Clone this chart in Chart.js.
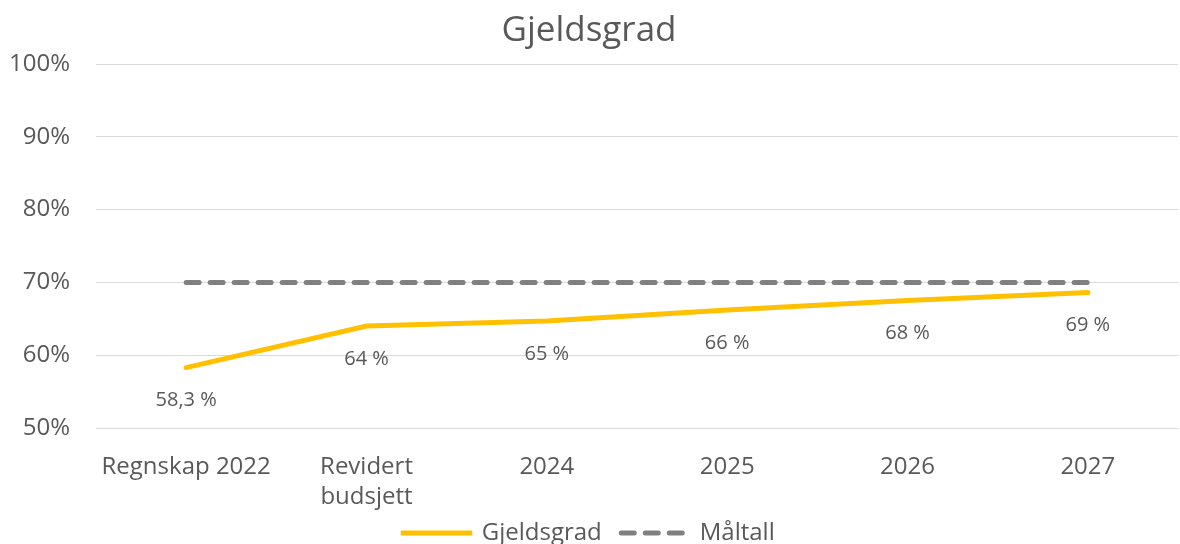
<!DOCTYPE html>
<html>
<head>
<meta charset="utf-8">
<script src="https://cdn.jsdelivr.net/npm/chart.js@4/dist/chart.umd.min.js"></script>
<style>
  html, body { margin: 0; padding: 0; background: #fff; overflow: hidden; }
  #wrap { width: 1180px; height: 555px; position: relative; }
</style>
</head>
<body>
<div id="wrap"><canvas id="canvas"></canvas></div>
<script>
var categories = [ "Regnskap 2022", [ "Revidert", "budsjett" ], "2024", "2025", "2026", "2027" ];
var gjeldsgrad = [ 58.3, 64.0, 64.7, 66.2, 67.5, 68.6 ];
var maltall = [ 70, 70, 70, 70, 70, 70 ];
var pointLabels = [ "58,3 %", "64 %", "65 %", "66 %", "68 %", "69 %" ];

var textColor = '#595959';
var fontFamily = '"Open Sans", Lato, sans-serif';

// labels under the yellow line, placed from the dataset's own points
var valueLabels = {
	id : 'valueLabels',
	afterDatasetsDraw : function(chart) {
		var meta = chart.getDatasetMeta(0);
		var ctx = chart.ctx;
		ctx.save();
		ctx.fillStyle = textColor;
		ctx.font = '20px ' + fontFamily;
		ctx.textAlign = 'center';
		ctx.textBaseline = 'middle';
		meta.data.forEach(function(pt, i) {
			ctx.fillText(pointLabels[i], pt.x, pt.y + 33);
		});
		ctx.restore();
	}
};

window.onload = function() {
	var ctx = document.getElementById("canvas").getContext("2d");
	window.myLine = new Chart(ctx, {
		type : 'line',
		data : {
			labels : categories,
			datasets : [ {
				label : "Gjeldsgrad",
				data : gjeldsgrad,
				borderColor : '#FFC000',
				backgroundColor : '#FFC000',
				borderWidth : 5,
				borderCapStyle : 'round',
				pointRadius : 0,
				tension : 0
			}, {
				label : "Måltall",
				data : maltall,
				borderColor : '#808080',
				backgroundColor : '#808080',
				borderWidth : 5,
				borderDash : [ 13, 11 ],
				borderCapStyle : 'round',
				pointRadius : 0
			} ]
		},
		options : {
			responsive : true,
			maintainAspectRatio : false,
			animation : false,
			layout : {
				padding : { left : 0, right : 2, top : 0, bottom : 0 }
			},
			plugins : {
				title : {
					display : true,
					text : 'Gjeldsgrad',
					color : textColor,
					font : { family : fontFamily, size : 35, weight : 'normal' },
					padding : { top : 10, bottom : 12 }
				},
				legend : {
					position : 'bottom',
					labels : {
						color : textColor,
						font : { family : fontFamily, size : 24 },
						// flat box so the stroke looks like a (dashed) line
						boxWidth : 66.5,
						boxHeight : 0.01,
						padding : 7,
						// a bit more room between the two legend entries
						generateLabels : function(chart) {
							var items = Chart.defaults.plugins.legend.labels.generateLabels(chart);
							items[0].text = items[0].text + '  ';
							return items;
						}
					}
				},
				tooltip : { enabled : false }
			},
			scales : {
				x : {
					offset : true,
					afterFit : function(scale) { scale.height = 86; },
					grid : { display : false, drawTicks : false },
					border : { display : false },
					ticks : {
						color : textColor,
						font : { family : fontFamily, size : 24, lineHeight : 1.25 },
						padding : 24,
						maxRotation : 0,
						autoSkip : false
					}
				},
				y : {
					min : 50,
					max : 100,
					afterFit : function(scale) { scale.width = 96; },
					grid : { color : '#d9d9d9', lineWidth : 1, drawTicks : false },
					border : { display : false },
					ticks : {
						stepSize : 10,
						color : textColor,
						font : { family : fontFamily, size : 24 },
						padding : 26,
						callback : function(v) { return v + '%'; }
					}
				}
			}
		},
		plugins : [ valueLabels ]
	});
};
</script>
</body>
</html>
